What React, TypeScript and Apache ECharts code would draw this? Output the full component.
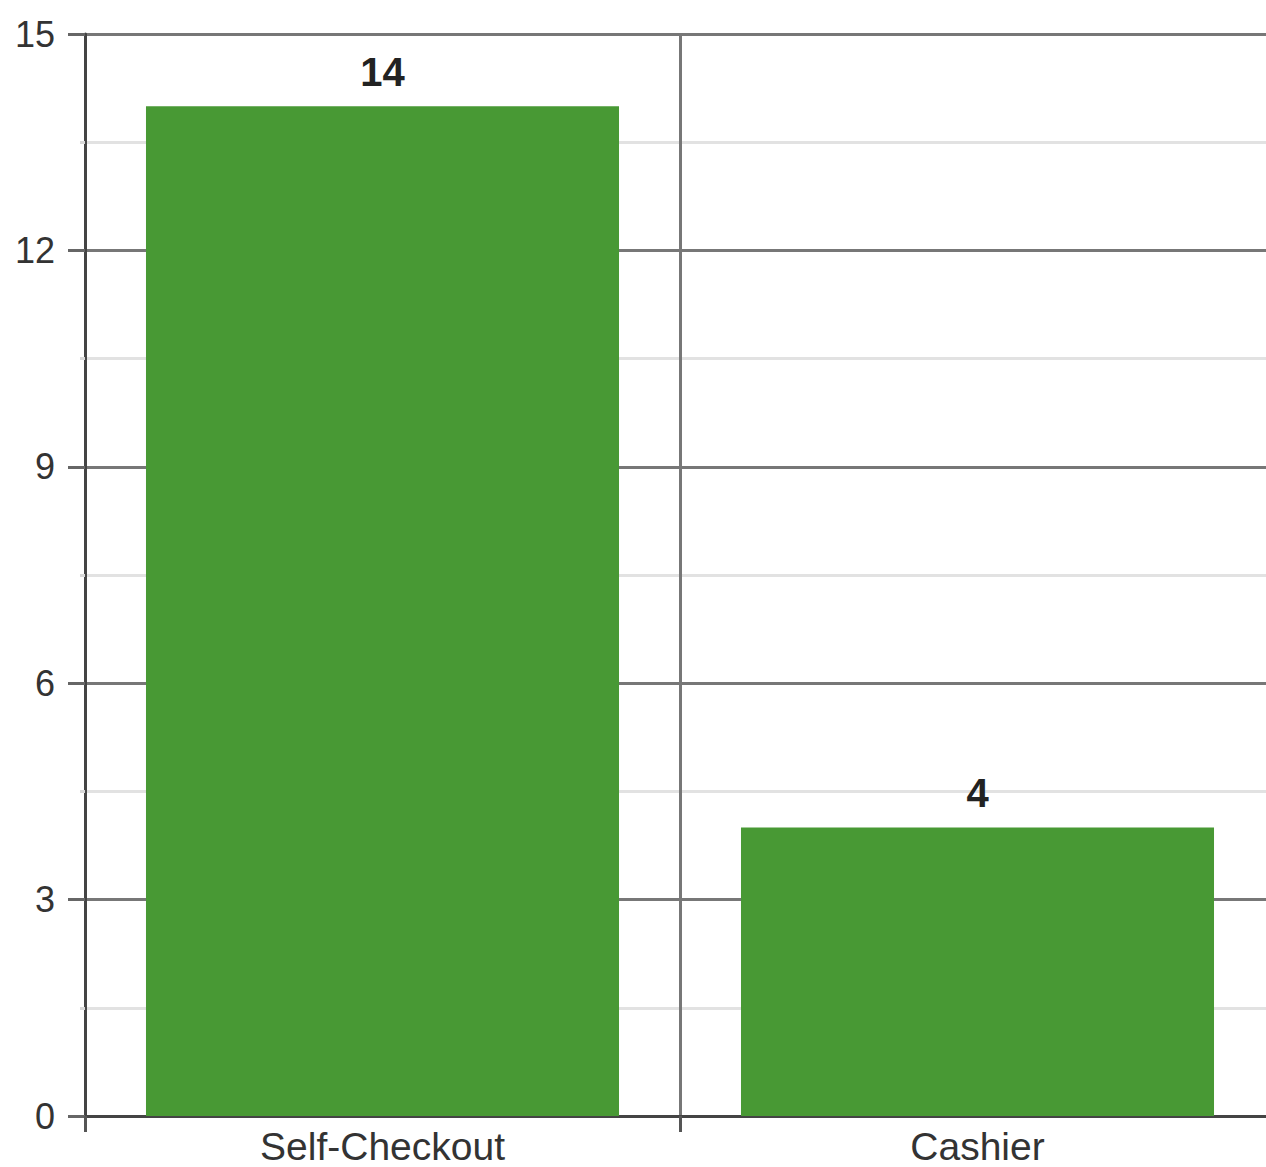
import React, { useEffect, useRef } from "react";
import * as echarts from "echarts";

const categories = ["Self-Checkout", "Cashier"];
const values = [14, 4];
const yMin = 0;
const yMax = 15;
const yInterval = 3;

export default function App() {
  const ref = useRef<HTMLDivElement>(null);
  useEffect(() => {
    document.body.style.margin = "0";
    const chart = echarts.init(ref.current!, null, { renderer: "svg" });
    const font = "'Liberation Sans', Arial, sans-serif";
    chart.setOption({
      animation: false,
      backgroundColor: "#ffffff",
      textStyle: { fontFamily: font },
      grid: { left: 85, right: 0, top: 34, bottom: 51, containLabel: false },
      xAxis: {
        type: "category",
        data: categories,
        axisLine: { show: true, lineStyle: { color: "#444", width: 3 } },
        axisTick: { show: true, alignWithLabel: false, length: 16, lineStyle: { color: "#555", width: 3 } },
        splitLine: { show: true, lineStyle: { color: "#777", width: 3 } },
        axisLabel: { fontSize: 39, color: "#333", margin: 11, fontFamily: font },
      },
      yAxis: {
        type: "value",
        min: yMin,
        max: yMax,
        interval: yInterval,
        axisLine: { show: true, lineStyle: { color: "#444", width: 3 } },
        axisTick: { show: true, length: 17, lineStyle: { color: "#666", width: 3 } },
        minorTick: { show: true, splitNumber: 2, length: 5, lineStyle: { color: "#d8d8d8", width: 3 } },
        splitLine: { show: true, lineStyle: { color: "#777", width: 3 } },
        minorSplitLine: { show: true, lineStyle: { color: "#e2e2e2", width: 3 } },
        axisLabel: { fontSize: 36, color: "#333", margin: 30, fontFamily: font },
      },
      series: [
        {
          type: "bar",
          data: values,
          barCategoryGap: "20.5%",
          itemStyle: { color: "#489934" },
          label: {
            show: true,
            position: "top",
            distance: 14,
            fontSize: 40,
            fontWeight: "bold",
            color: "#222",
            fontFamily: font,
          },
        },
      ],
    });
    return () => chart.dispose();
  }, []);
  return (
    <div style={{ width: 1266, height: 1167, overflow: "hidden" }}>
      <div ref={ref} style={{ width: 1275, height: 1167 }} />
    </div>
  );
}
